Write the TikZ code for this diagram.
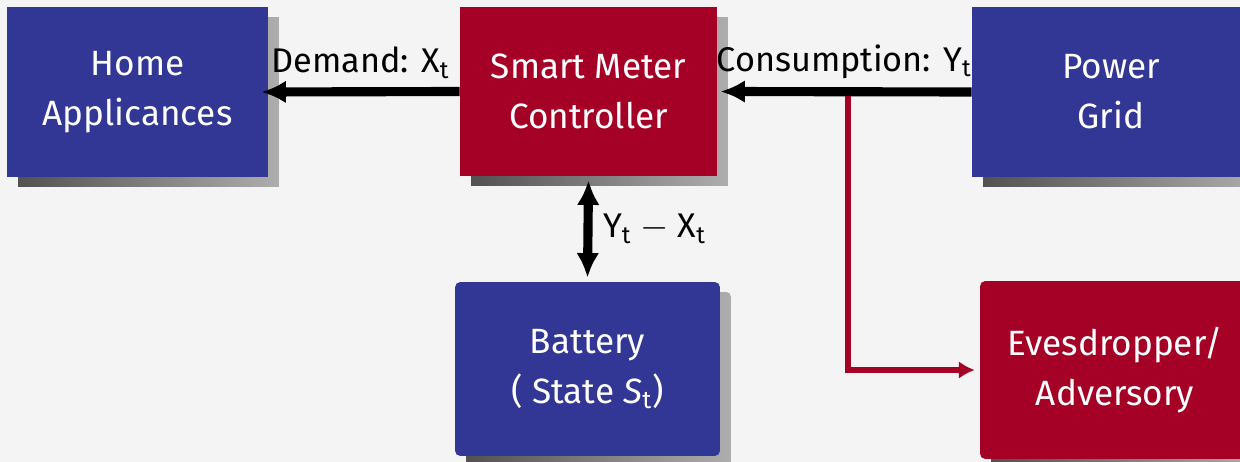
\documentclass[tikz,border=0pt]{standalone}
\usepackage{fontspec}
\setmainfont{Fira Sans}
\usetikzlibrary{arrows.meta,shadows,positioning}
\definecolor{boxblue}{RGB}{50,54,148}
\definecolor{boxred}{RGB}{165,0,38}
\definecolor{paper}{RGB}{244,244,244}
\tikzset{
  block/.style={draw=none, text=white, align=center, inner sep=0pt,
    font=\fontsize{20}{28.5}\selectfont,
    drop shadow={shadow xshift=0.22cm, shadow yshift=-0.2cm,
      left color=black!68, right color=black!32, opacity=1}},
  flow/.style={line width=5.2pt, -{Latex[length=14pt,width=13pt]}},
  leak/.style={boxred, line width=3.6pt, -{Latex[length=9pt,width=10pt]}},
  tag/.style={font=\fontsize{19.5}{24}\selectfont, inner sep=2pt}
}
\begin{document}
\begin{tikzpicture}[x=0.02cm,y=-0.02cm]
    % fond et cadre
    \fill[paper] (0,0) rectangle (1240,462);
    \useasboundingbox (0,0) rectangle (1240,462);
    \clip (0,0) rectangle (1240,462);

    % Blocs
    \node[block, fill=boxblue, minimum width=5.22cm, minimum height=3.4cm] (home) at (137.5,92) {Home\\Applicances};
    \node[block, fill=boxred, minimum width=5.14cm, minimum height=3.38cm] (smc) at (588.5,91.5) {Smart Meter\\Controller};
    \node[block, fill=boxblue, minimum width=5.56cm, minimum height=3.4cm] (grid) at (1111,92) {Power\\Grid};
    \node[block, fill=boxblue, rounded corners=3pt, minimum width=5.3cm, minimum height=3.48cm] (batt) at (587.5,369) {Battery\\( State \textit{S}\textsubscript{t})};
    \node[block, fill=boxred, rounded corners=3pt, minimum width=5.4cm, minimum height=3.56cm] (eve) at (1115,370) {Evesdropper/\\Adversory};

    % Flujos
    \draw[flow] (smc.west) -- ([xshift=-0.14cm]home.east)
      node[tag, midway, above=3pt] (dem) {Demand: X\textsubscript{t}};
    \draw[flow] (grid.west) -- ([xshift=0.06cm]smc.east)
      node[tag, midway, above=3pt, xshift=-0.04cm] (cons) {Consumption: Y\textsubscript{t}};
    \draw[flow, {Latex[length=14pt,width=13pt]}-{Latex[length=14pt,width=13pt]}] ([yshift=-0.08cm]smc.south) -- ([yshift=0.08cm]batt.north)
      node[tag, midway, right=4pt] (diff) {Y\textsubscript{t} $-$ X\textsubscript{t}};

    % Fuga hacia el adversario
    \coordinate (tap) at (848,96);
    \draw[leak] (tap) |- ([xshift=-0.1cm]eve.west);
  \end{tikzpicture}
\end{document}
